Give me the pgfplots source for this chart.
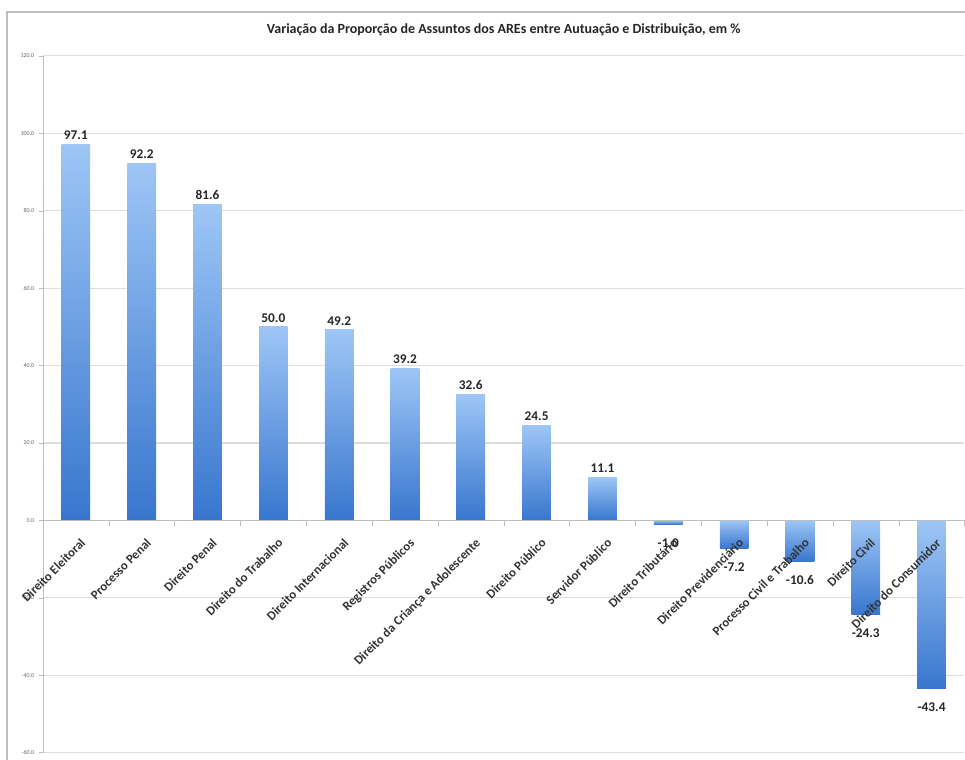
\documentclass[border=0pt]{standalone}
\usepackage{pgfplots}
\pgfplotsset{compat=1.18}
\usepackage{fontspec}
\setmainfont{Carlito}
\definecolor{barlight}{RGB}{158,198,246}
\definecolor{bardark}{RGB}{56,118,206}
\definecolor{gridc}{RGB}{222,222,222}
\definecolor{axc}{RGB}{190,190,190}
\pgfplotsset{
  common/.style={scale only axis, width=691.5pt, height=522.75pt,
    xmin=-0.5, xmax=13.5, ymin=-60, ymax=120, clip=false},
  mybar/.style={ybar, bar width=21.5pt, bar shift=0pt, draw=none, top color=barlight, bottom color=bardark,
    nodes near coords, nodes near coords align={vertical},
    every node near coord/.append style={/tikz/font=\fontsize{10}{12}\selectfont\bfseries, /tikz/text=black!85,
      /pgf/number format/fixed, /pgf/number format/fixed zerofill, /pgf/number format/precision=1, /pgf/number format/assume math mode=true}},
  mybarneg/.style={mybar, every node near coord/.append style={/tikz/inner ysep=10.5pt}},
}
\begin{document}
\begin{tikzpicture}
% background axis: grid and y axis
\begin{axis}[
  common,
  ytick={-60,-40,...,120},
  xtick=\empty,
  axis x line=none,
  axis y line=left,
  axis line style={axc, -},
  ymajorgrids,
  grid style={gridc, line width=0.8pt},
  yticklabel style={font=\fontsize{4.5}{5}\selectfont, text=black!60},
  y tick label style={/pgf/number format/.cd, fixed, fixed zerofill, precision=1},
  /pgf/number format/assume math mode=true,
  major y tick style={axc},
  major tick length=3pt,
  tick align=outside,
]
\coordinate (bl) at (rel axis cs:0,0);
\coordinate (tr) at (rel axis cs:1,1);
\coordinate (tt) at (rel axis cs:0.5,1);
\end{axis}
% foreground axis: bars and category labels
\begin{axis}[
  common,
  set layers=axis on top,
  axis x line=middle,
  axis y line=none,
  ytick=\empty,
  axis line style={axc, -},
  hide obscured x ticks=false,
  xtick={0,...,13},
  xticklabels={Direito Eleitoral,Processo Penal,Direito Penal,Direito do Trabalho,Direito Internacional,Registros Públicos,Direito da Criança e Adolescente,Direito Público,Servidor Público,Direito Tributário,Direito Previdenciário,Processo Civil e Trabalho,Direito Civil,Direito do Consumidor},
  xticklabel style={rotate=45, anchor=north east, font=\fontsize{9.6}{11}\selectfont\bfseries, text=black!80, inner sep=1pt, xshift=-3pt, yshift=-7pt},
  major x tick style={draw=none},
  minor xtick={-0.5,0.5,...,13.5},
  minor x tick style={axc},
  minor tick length=4pt,
  tick align=outside,
]
\addplot[mybar] coordinates {(0,97.1)};
\addplot[mybar] coordinates {(1,92.2)};
\addplot[mybar] coordinates {(2,81.6)};
\addplot[mybar] coordinates {(3,50.0)};
\addplot[mybar] coordinates {(4,49.2)};
\addplot[mybar] coordinates {(5,39.2)};
\addplot[mybar] coordinates {(6,32.6)};
\addplot[mybar] coordinates {(7,24.5)};
\addplot[mybar] coordinates {(8,11.1)};
\addplot[mybarneg] coordinates {(9,-1.0)};
\addplot[mybarneg] coordinates {(10,-7.2)};
\addplot[mybarneg] coordinates {(11,-10.6)};
\addplot[mybarneg] coordinates {(12,-24.3)};
\addplot[mybarneg] coordinates {(13,-43.4)};
\end{axis}
\useasboundingbox ([xshift=-32.25pt,yshift=-3.75pt]bl) rectangle ([yshift=42pt]tr);
\draw[axc, line width=0.8pt] ([xshift=-27pt,yshift=-10pt]bl) -- ([xshift=-27pt,yshift=33pt]bl|-tr) -- ([xshift=10pt,yshift=33pt]tr);
\node[font=\fontsize{10.5}{12}\selectfont\bfseries, text=black!85] at ([yshift=19.5pt]tt) {Variação da Proporção de Assuntos dos AREs entre Autuação e Distribuição, em \%};
\end{tikzpicture}
\end{document}
